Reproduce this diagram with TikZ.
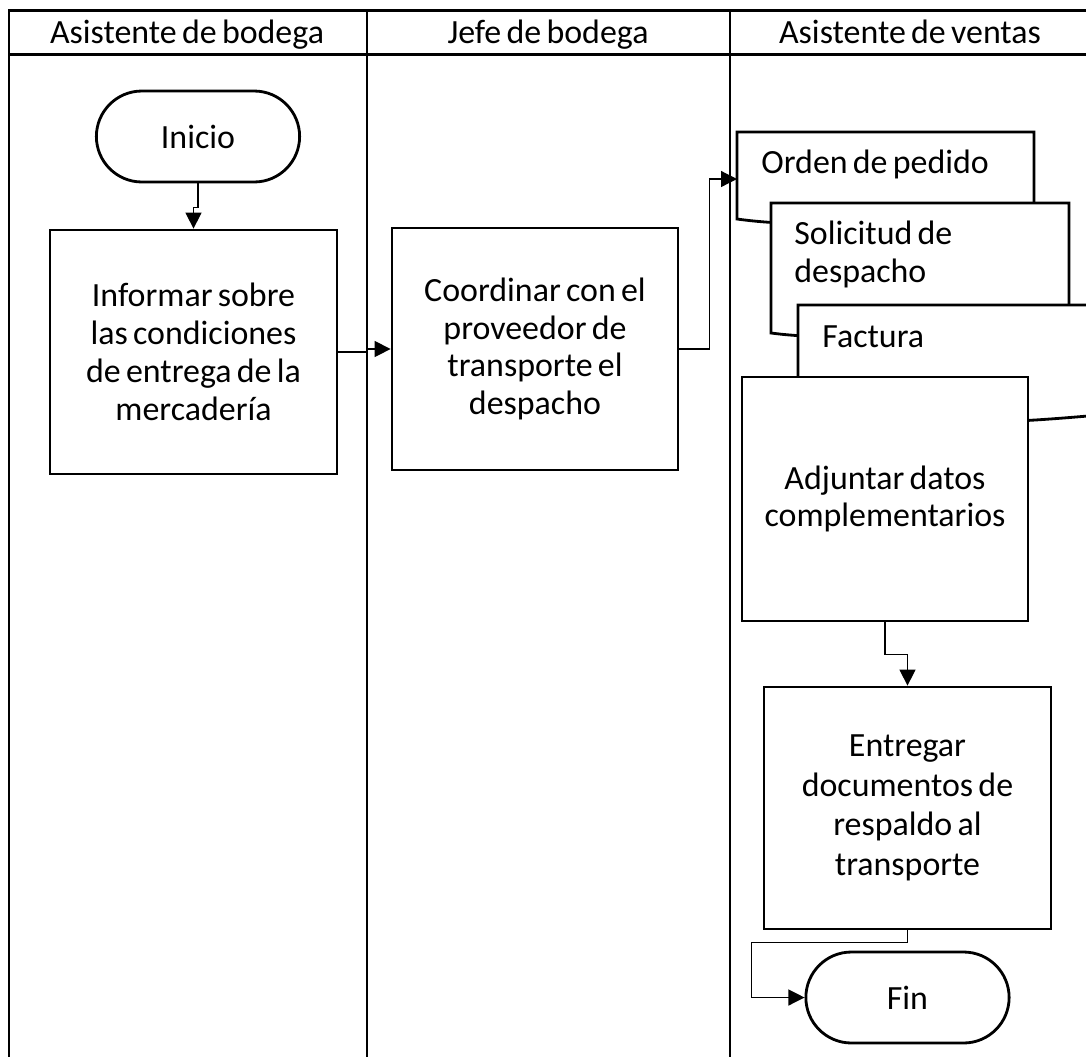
\documentclass[tikz,border=0pt]{standalone}
\usepackage{fontspec}
\setmainfont{Carlito}
\usepackage{tikz}
\usetikzlibrary{positioning,arrows.meta,calc,shapes.misc}

\begin{document}
\begin{tikzpicture}[x=0.02cm, y=-0.02cm,
  every node/.style={font=\fontsize{19.3}{21.5}\selectfont,
                     execute at begin node={\spaceskip=3pt plus 1pt\relax}},
  lane/.style={line width=1.7pt},
  hdr/.style={font=\fontsize{19.3}{23}\selectfont, anchor=base},
  pbox/.style={draw, line width=1.6pt, fill=white, align=center, inner sep=0pt,
               minimum width=5.74cm, minimum height=4.88cm},
  term/.style={draw, line width=1.6pt, fill=white, rounded rectangle,
               minimum width=4.3cm, minimum height=1.82cm},
  docline/.style={draw, line width=1.6pt, fill=white},
  doctext/.style={anchor=base west, align=left, inner sep=0pt},
  flow/.style={-{Triangle[length=0.32cm, width=0.32cm]}, line width=0.7pt}]

  \useasboundingbox (0,0) rectangle (1086,1056);
  \clip (0,0) rectangle (1086,1056);

  % lanes
  \draw[lane] (9,1070) -- (9,10) -- (1100,10);
  \draw[lane] (9,54) -- (1100,54);
  \draw[lane] (367,10) -- (367,1070);
  \draw[lane] (730,10) -- (730,1070);
  \node[hdr] (h1) at (187,43) {Asistente de bodega};
  \node[hdr] (h2) at (548,43) {Jefe de bodega};
  \node[hdr] (h3) at (910,43) {Asistente de ventas};

  % bodega
  \node[term] (inicio) at (198,136.5) {Inicio};
  \node[pbox] (informar) at (193.5,352)
    {Informar sobre\\las condiciones\\de entrega de la\\mercadería};
  \node[pbox, minimum width=5.72cm, minimum height=4.84cm] (coordinar) at (535,349)
    {Coordinar con el\\proveedor de\\transporte el\\despacho};

  % documentos
  \draw[docline] (737,219) -- (737,132) -- (1034,132) -- (1034,214)
    .. controls (940,214) and (830,232) .. cycle;
  \node[doctext] (orden) at (761,173) {Orden de pedido};
  \coordinate (ordenin) at (737,179);
  \draw[docline] (771,333) -- (771,203) -- (1069,203) -- (1069,320)
    .. controls (970,320) and (870,346) .. cycle;
  \node[doctext] (solicitud) at (794,282) {Solicitud de\\despacho};
  \draw[docline] (798,395) -- (798,305) -- (1110,305) -- (1110,414)
    .. controls (990,425) and (900,430) .. cycle;
  \node[doctext] (factura) at (822,347) {Factura};

  % ventas
  \node[pbox, minimum width=5.72cm] (adjuntar) at (885,499)
    {Adjuntar datos\\complementarios};
  \node[pbox, minimum height=4.84cm, font=\fontsize{19.3}{22.5}\selectfont]
    (entregar) at (907.5,808)
    {Entregar\\documentos de\\respaldo al\\transporte};
  \node[term] (fin) at (907.5,997.5) {Fin};

  \draw[flow] (inicio.south) -- ++(0,24) -| (informar.north);
  \draw[flow] (informar.east) -- ++(29,0) |- (coordinar.west);
  \draw[flow] (coordinar.east) -- ++(30,0) |- (ordenin);
  \draw[flow] (adjuntar.south) -- ++(0,32) -| (entregar.north);
  \draw[flow] (entregar.south) -- ++(0,12) -| ([xshift=-1.06cm]fin.west) -- (fin.west);
\end{tikzpicture}
\end{document}
